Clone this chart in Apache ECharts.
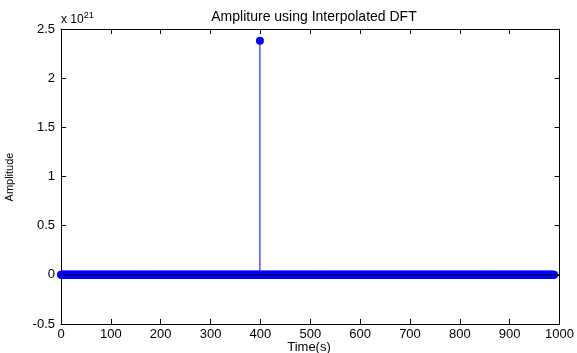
<!DOCTYPE html>
<html>
<head>
<meta charset="utf-8">
<script src="https://cdn.jsdelivr.net/npm/echarts@6/dist/echarts.min.js"></script>
<style>
  html, body { margin: 0; padding: 0; background: #fff; }
  #chart { width: 577px; height: 353px; }
</style>
</head>
<body>
<div id="chart"></div>
<script>
// amplitude in units of 1e21
var sampleCount = 990;      // samples 0 .. 989, all at zero ...
var peakTime = 399;         // ... except this one
var peakAmp = 2.38;
var xTicks = [0, 1000, 100];
var yTicks = [-0.5, 2.5, 0.5];

var points = [];
for (var i = 0; i < sampleCount; i++) {
    points.push([i, i === peakTime ? peakAmp : 0]);
}
var baseline = [[xTicks[0], 0], [xTicks[1], 0]];

var font = 'Liberation Sans, Arial, sans-serif';

var boxAxis = function (pos, lim, showLabel) {
    return {
        type: 'value',
        position: pos,
        min: lim[0], max: lim[1], interval: lim[2],
        axisLine: { show: true, onZero: false, lineStyle: { color: '#000', width: 1 } },
        axisTick: { show: true, inside: true, length: 5, lineStyle: { color: '#000' } },
        axisLabel: {
            show: showLabel, color: '#000', fontFamily: font, fontSize: 13,
            margin: pos === 'bottom' ? 4 : 6,
            formatter: function (v) { return String(v); }
        },
        splitLine: { show: false }
    };
};

var chart = echarts.init(document.getElementById('chart'));
chart.setOption({
    animation: false,
    backgroundColor: '#fff',
    title: {
        text: 'Ampliture using Interpolated DFT',
        left: 309, top: 5, textAlign: 'center',
        textStyle: { color: '#000', fontFamily: font, fontSize: 14, fontWeight: 'normal' }
    },
    grid: { left: 61, right: 15, top: 29, bottom: 29, containLabel: false },
    xAxis: [boxAxis('bottom', xTicks, true), boxAxis('top', xTicks, false)],
    yAxis: [boxAxis('left', yTicks, true), boxAxis('right', yTicks, false)],
    graphic: [
        {
            type: 'text', left: 61, top: 11,
            style: {
                text: '{a|x 10}{b|21}',
                rich: {
                    a: { fontFamily: font, fontSize: 12, fill: '#000', verticalAlign: 'bottom' },
                    b: { fontFamily: font, fontSize: 9, fill: '#000', verticalAlign: 'top', padding: [0, 0, 6, 0] }
                }
            }
        },
        {
            type: 'text', x: 10, y: 177, rotation: Math.PI / 2,
            style: {
                text: 'Amplitude', fontFamily: font, fontSize: 11, fill: '#000',
                align: 'center', verticalAlign: 'middle'
            }
        },
        {
            type: 'text', x: 309, y: 347,
            style: {
                text: 'Time(s)', fontFamily: font, fontSize: 13, fill: '#000',
                align: 'center', verticalAlign: 'middle'
            }
        }
    ],
    series: [
        {
            type: 'custom',
            data: points,
            z: 2,
            renderItem: function (params, api) {
                var a = api.coord([api.value(0), 0]);
                var b = api.coord([api.value(0), api.value(1)]);
                return {
                    type: 'line',
                    shape: { x1: a[0], y1: a[1], x2: b[0], y2: b[1] },
                    style: { stroke: '#0000ff', lineWidth: 1 }
                };
            }
        },
        {
            type: 'scatter',
            data: points,
            symbol: 'circle',
            symbolSize: 8,
            z: 3,
            itemStyle: { color: '#0000ff', opacity: 1 }
        },
        {
            type: 'line',
            data: baseline,
            symbol: 'none',
            silent: true,
            z: 10,
            lineStyle: { color: '#000', width: 1 }
        }
    ]
});
</script>
</body>
</html>
